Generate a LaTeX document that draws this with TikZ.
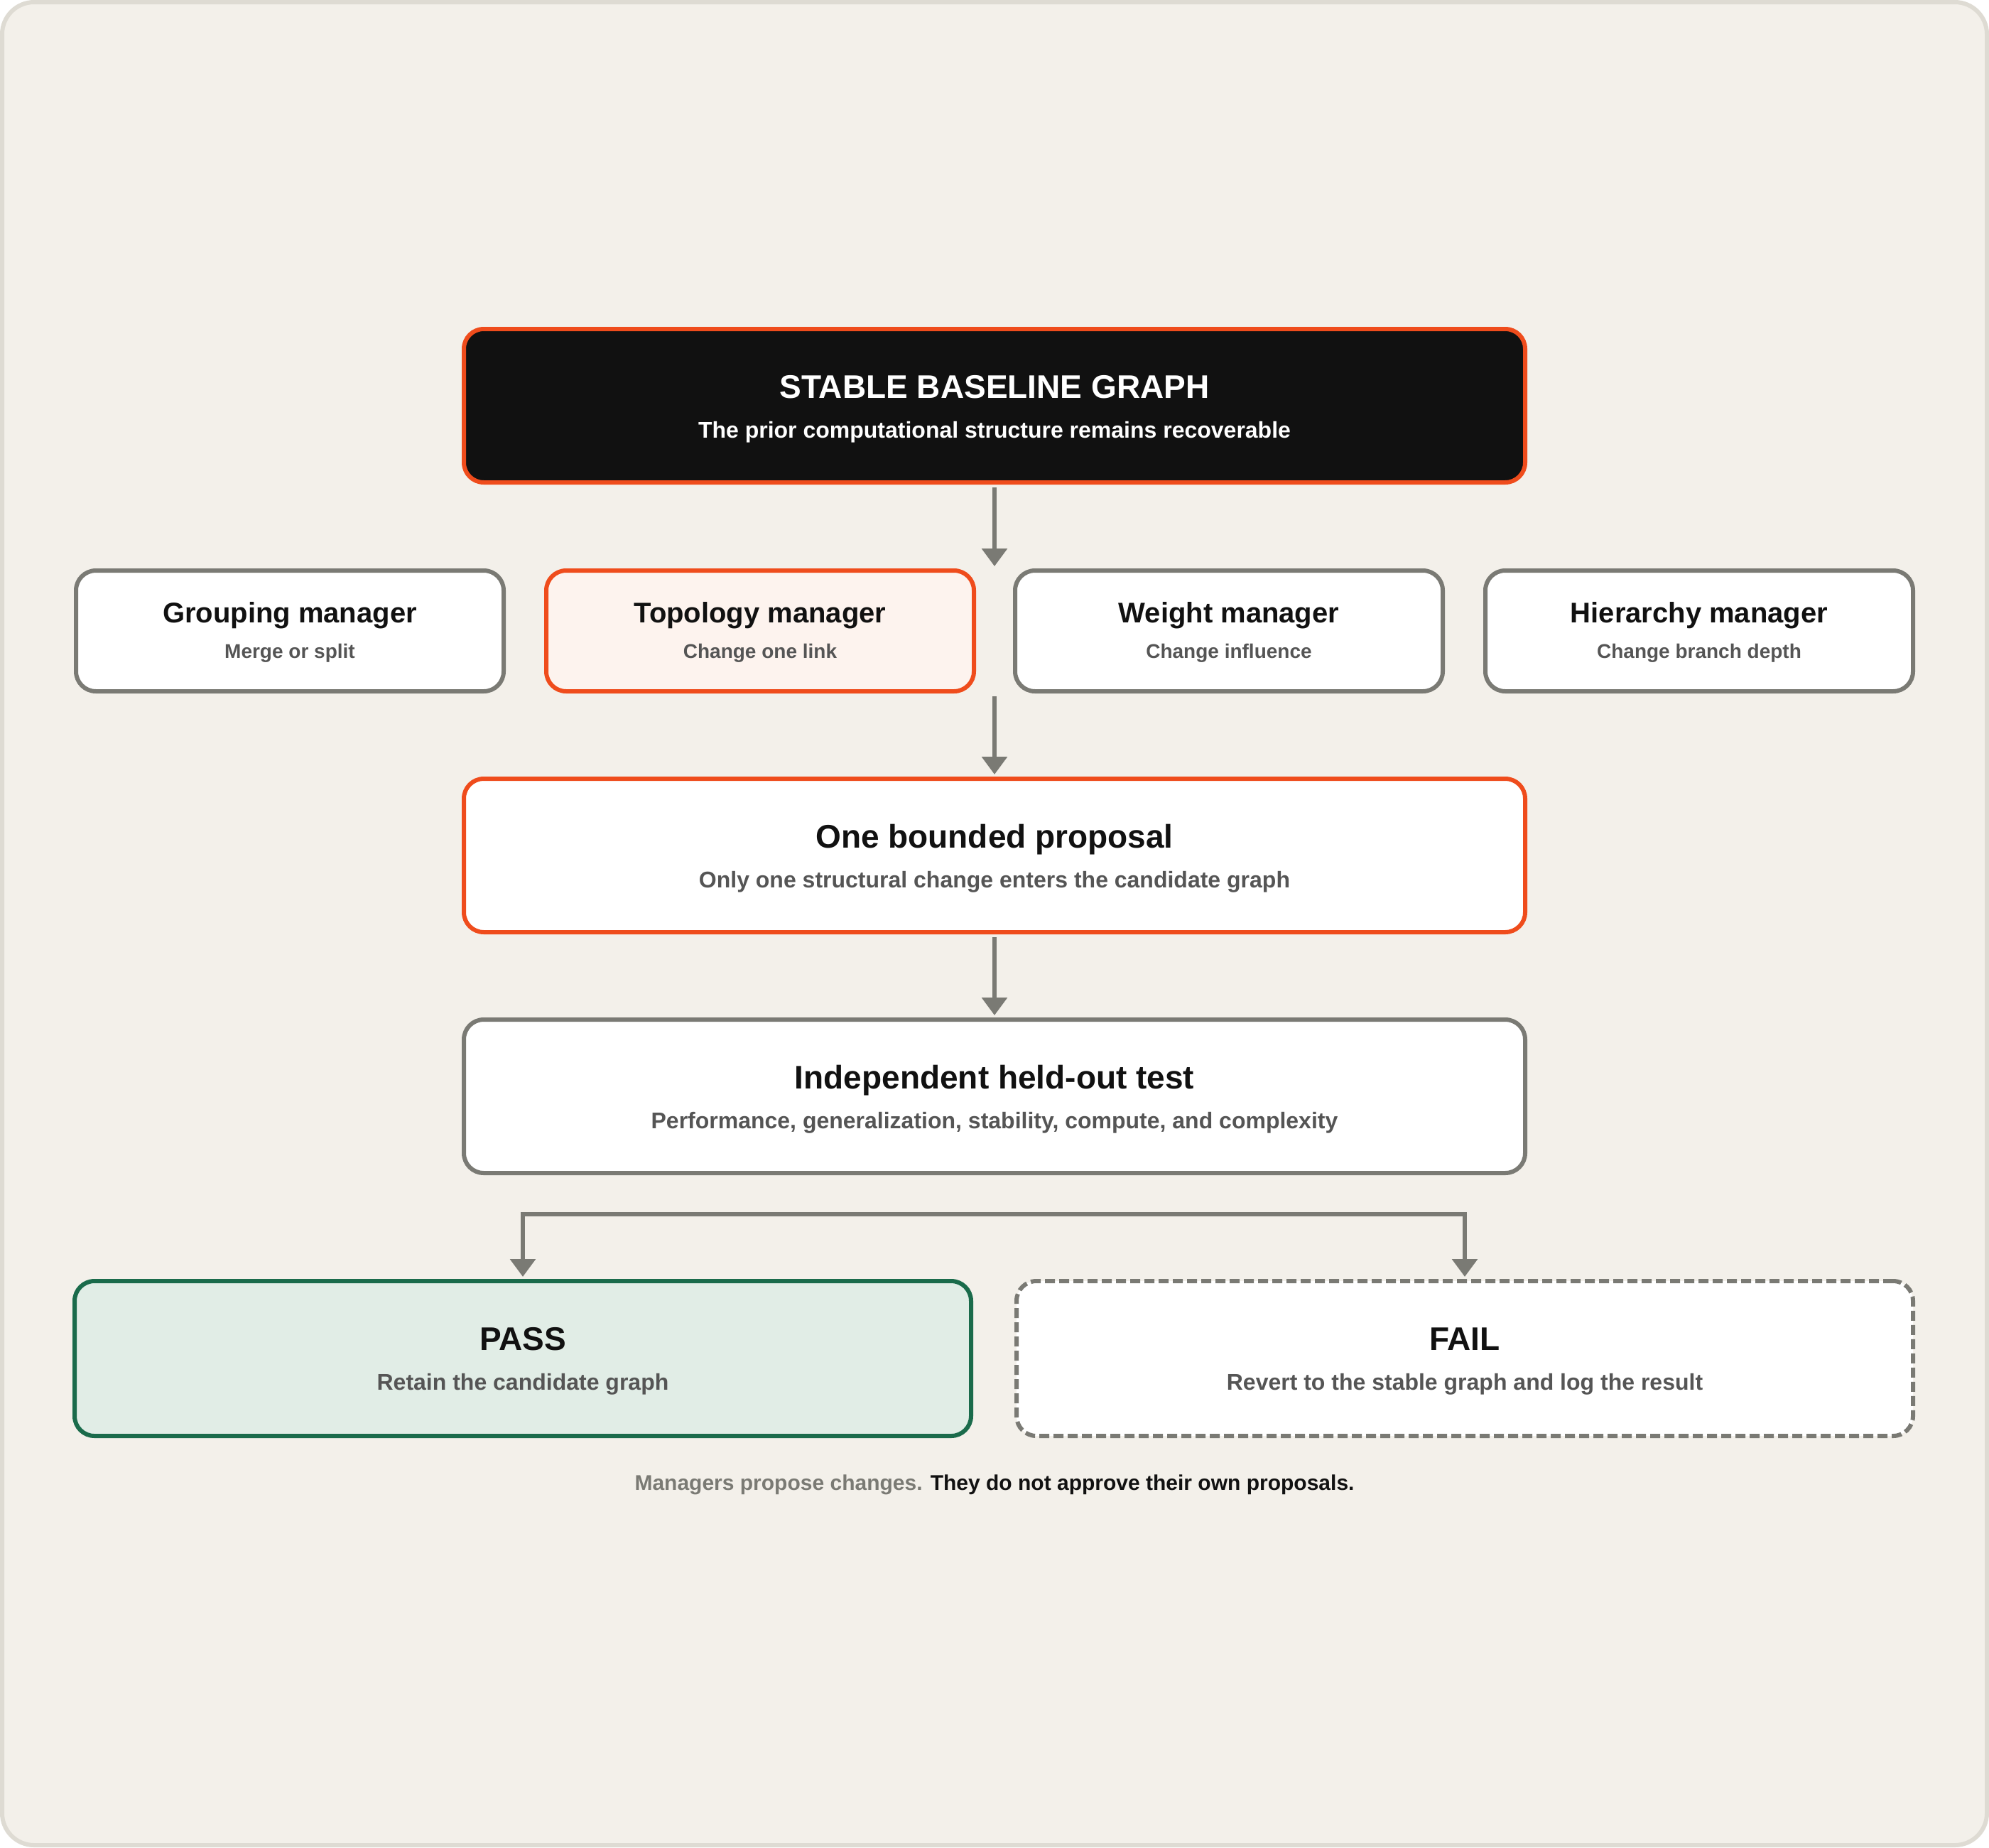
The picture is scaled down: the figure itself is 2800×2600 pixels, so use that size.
\documentclass[tikz,border=0pt]{standalone}
\usepackage{fontspec}
\setmainfont{Liberation Sans}
\usetikzlibrary{arrows.meta}
\definecolor{bgc}{HTML}{F3F0EA}
\definecolor{framec}{HTML}{DEDBD3}
\definecolor{orangec}{HTML}{EF4C1C}
\definecolor{grayc}{HTML}{7A7A74}
\definecolor{inkc}{HTML}{111111}
\definecolor{subc}{HTML}{555555}
\definecolor{topofill}{HTML}{FDF3EE}
\definecolor{greenc}{HTML}{1A6B4B}
\definecolor{passfill}{HTML}{E1EDE6}
\begin{document}
\begin{tikzpicture}[x=1pt,y=-1pt,
 card/.style={draw, line width=6pt, rounded corners=28pt, inner sep=0pt, outer sep=0pt},
 widecard/.style={card, minimum width=1494pt, minimum height=216pt},
 mgrcard/.style={card, minimum width=602pt, minimum height=170pt, draw=grayc, fill=white},
 outcard/.style={card, minimum width=1262pt, minimum height=218pt},
 bigtitle/.style={anchor=base, text=inkc, font=\bfseries\fontsize{46}{55}\selectfont, inner sep=0pt},
 midtitle/.style={anchor=base, text=inkc, font=\bfseries\fontsize{40}{48}\selectfont, inner sep=0pt},
 bigsub/.style={anchor=base, text=subc, font=\bfseries\fontsize{32}{38}\selectfont, inner sep=0pt},
 midsub/.style={anchor=base, text=subc, font=\bfseries\fontsize{28}{34}\selectfont, inner sep=0pt},
 tip/.tip={Triangle[length=25pt,width=35pt]},
 flow/.style={draw=grayc, line width=6pt, -tip, shorten <=7pt, shorten >=6pt},
]
\useasboundingbox (0,0) rectangle (2800,2600);
\draw[fill=bgc, draw=framec, line width=6pt, rounded corners=45pt] (3,3) rectangle (2797,2597);

% baseline
\node[widecard, draw=orangec, fill=inkc] (base) at (1400,571) {};
\node[bigtitle, text=white] (baset) at ([yshift=11pt]base.center) {STABLE BASELINE GRAPH};
\node[bigsub, text=white] (bases) at ([yshift=-45pt]base.center) {The prior computational structure remains recoverable};

% managers
\node[mgrcard] (grp) at (408,888) {};
\node[midtitle] (grpt) at ([yshift=12pt]grp.center) {Grouping manager};
\node[midsub] (grps) at ([yshift=-38pt]grp.center) {Merge or split};

\node[mgrcard, draw=orangec, fill=topofill] (topo) at (1070,888) {};
\node[midtitle] (topot) at ([yshift=12pt]topo.center) {Topology manager};
\node[midsub] (topos) at ([yshift=-38pt]topo.center) {Change one link};

\node[mgrcard] (wgt) at (1730,888) {};
\node[midtitle] (wgtt) at ([yshift=12pt]wgt.center) {Weight manager};
\node[midsub] (wgts) at ([yshift=-38pt]wgt.center) {Change influence};

\node[mgrcard] (hier) at (2392,888) {};
\node[midtitle] (hiert) at ([yshift=12pt]hier.center) {Hierarchy manager};
\node[midsub] (hiers) at ([yshift=-38pt]hier.center) {Change branch depth};

% proposal
\node[widecard, draw=orangec, fill=white] (prop) at (1400,1204) {};
\node[bigtitle] (propt) at ([yshift=11pt]prop.center) {One bounded proposal};
\node[bigsub] (props) at ([yshift=-45pt]prop.center) {Only one structural change enters the candidate graph};

% test
\node[widecard, draw=grayc, fill=white] (test) at (1400,1543) {};
\node[bigtitle] (testt) at ([yshift=11pt]test.center) {Independent held-out test};
\node[bigsub] (tests) at ([yshift=-45pt]test.center) {Performance, generalization, stability, compute, and complexity};

% outcomes
\node[outcard, draw=greenc, fill=passfill] (pass) at (736,1912) {};
\node[bigtitle] (passt) at ([yshift=12pt]pass.center) {PASS};
\node[bigsub] (passs) at ([yshift=-44pt]pass.center) {Retain the candidate graph};

\node[outcard, draw=grayc, fill=white, dash pattern=on 14pt off 6pt] (fail) at (2062,1912) {};
\node[bigtitle] (failt) at ([yshift=12pt]fail.center) {FAIL};
\node[bigsub] (fails) at ([yshift=-44pt]fail.center) {Revert to the stable graph and log the result};

% connectors
\coordinate (fanin) at (1400,797);
\coordinate (fanout) at (1400,980);
\coordinate (split) at (1400,1709);
\draw[flow, shorten >=0pt] (base.south) -- (fanin);
\draw[flow, shorten <=0pt] (fanout) -- (prop.north);
\draw[flow] (prop.south) -- (test.north);
\draw[draw=grayc, line width=6pt, tip-tip, shorten <=6pt, shorten >=6pt] (pass.north) |- (split) -| (fail.north);

% footer
\node[anchor=base, inner sep=0pt, font=\bfseries\fontsize{30}{36}\selectfont, text=inkc] (note) at (1400,2097) {\textcolor{grayc}{Managers propose changes.} They do not approve their own proposals.};
\end{tikzpicture}
\end{document}
